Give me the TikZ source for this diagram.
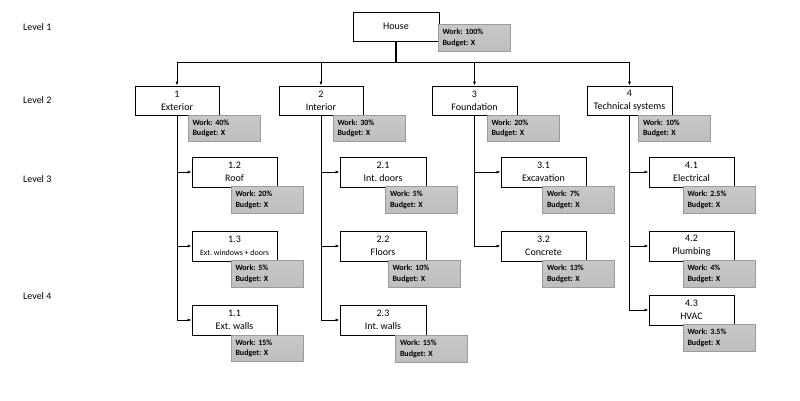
\documentclass[tikz,border=0pt]{standalone}
\usepackage{fontspec}
\setmainfont{Carlito}
\usetikzlibrary{arrows.meta}
\definecolor{tagfill}{RGB}{190,190,190}
\definecolor{tagline}{RGB}{155,155,155}
\frenchspacing
\begin{document}
\begin{tikzpicture}[x=1pt,y=-1pt,
  wbs/.style={draw=black,line width=0.8pt,fill=white,inner sep=0pt,
    minimum height=29pt,align=center,font=\frenchspacing\fontsize{10}{13}\selectfont},
  tagbox/.style={draw=tagline,line width=0.6pt,top color=tagfill!85,bottom color=tagfill,
    inner xsep=4.5pt,inner ysep=0pt,minimum height=26.5pt,text width=63pt,align=left,
    font=\frenchspacing\bfseries\fontsize{8}{10.3}\selectfont},
  lvl/.style={anchor=west,inner sep=0pt,font=\fontsize{10}{12}\selectfont},
  conn/.style={line width=0.75pt,-{Latex[length=4pt,width=3pt]}},
  bar/.style={line width=0.75pt}]
\useasboundingbox (0,0) rectangle (800,401);

% level labels
\node[lvl] (l1) at (23,27) {Level 1};
\node[lvl] (l2) at (23,100) {Level 2};
\node[lvl] (l3) at (23,179) {Level 3};
\node[lvl] (l4) at (23,296) {Level 4};

% level 1
\node[wbs,minimum width=86pt] (house) at (396,26.5) {House};
% level 2
\node[wbs,minimum width=84pt] (ext) at (177,100.5) {1\\Exterior};
\node[wbs,minimum width=84pt] (int) at (321,100.5) {2\\Interior};
\node[wbs,minimum width=85pt] (fou) at (474.5,100.5) {3\\Foundation};
\node[wbs,minimum width=85pt] (tec) at (629.5,100.5) {4\\Technical systems};
% level 3/4
\node[wbs,minimum width=85pt,minimum height=30pt] (roof) at (234.5,172) {1.2\\Roof};
\node[wbs,minimum width=85pt,minimum height=30pt] (win) at (234.5,246) {1.3\\{\fontsize{8}{10}\selectfont Ext. windows + doors}};
\node[wbs,minimum width=85pt,minimum height=30pt] (wal) at (234.5,320) {1.1\\Ext. walls};
\node[wbs,minimum width=86pt,minimum height=30pt] (idr) at (383,172) {2.1\\Int. doors};
\node[wbs,minimum width=86pt,minimum height=30pt] (flo) at (383,246) {2.2\\Floors};
\node[wbs,minimum width=86pt,minimum height=30pt] (iwl) at (383,320) {2.3\\Int. walls};
\node[wbs,minimum width=85pt,minimum height=30pt] (exc) at (543.5,172) {3.1\\Excavation};
\node[wbs,minimum width=85pt,minimum height=30pt] (con) at (543.5,246) {3.2\\Concrete};
\node[wbs,minimum width=85pt,minimum height=30pt] (ele) at (691.5,172) {4.1\\Electrical};
\node[wbs,minimum width=85pt,minimum height=30pt] (plu) at (691.5,246) {4.2\\Plumbing};
\node[wbs,minimum width=85pt,minimum height=30pt] (hva) at (691.5,310) {4.3\\HVAC};

% tags
\node[tagbox] (thouse) at (474,38) {Work: 100\%\\Budget: X};
\node[tagbox] (text) at (224,128.5) {Work: 40\%\\Budget: X};
\node[tagbox] (tint) at (369,128.5) {Work: 30\%\\Budget: X};
\node[tagbox] (tfou) at (523,128.5) {Work: 20\%\\Budget: X};
\node[tagbox] (ttec) at (674.5,128.5) {Work: 10\%\\Budget: X};
\node[tagbox] (troof) at (267,200) {Work: 20\%\\Budget: X};
\node[tagbox] (twin) at (267,274) {Work: 5\%\\Budget: X};
\node[tagbox] (twal) at (267,348.5) {Work: 15\%\\Budget: X};
\node[tagbox] (tidr) at (421.5,200) {Work: 5\%\\Budget: X};
\node[tagbox] (tflo) at (424,274) {Work: 10\%\\Budget: X};
\node[tagbox] (tiwl) at (431.5,349) {Work: 15\%\\Budget: X};
\node[tagbox] (texc) at (578.5,200) {Work: 7\%\\Budget: X};
\node[tagbox] (tcon) at (578.5,274) {Work: 13\%\\Budget: X};
\node[tagbox] (tele) at (719,200) {Work: 2.5\%\\Budget: X};
\node[tagbox] (tplu) at (719,274) {Work: 4\%\\Budget: X};
\node[tagbox] (thva) at (719,338) {Work: 3.5\%\\Budget: X};

% connectors
\coordinate (bus) at (396,62);
\draw[line width=2pt] (house.south) -- (bus);
\draw[bar] (ext.north |- bus) -- (tec.north |- bus);
\draw[conn] (ext.north |- bus) -- (ext.north);
\draw[conn] (int.north |- bus) -- (int.north);
\draw[conn] (fou.north |- bus) -- (fou.north);
\draw[conn] (tec.north |- bus) -- (tec.north);

\draw[conn] (ext.south) |- (roof.west);
\draw[conn] (ext.south) |- (win.west);
\draw[conn] (ext.south) |- (wal.west);
\draw[conn] (int.south) |- (idr.west);
\draw[conn] (int.south) |- (flo.west);
\draw[conn] (int.south) |- (iwl.west);
\draw[conn] (fou.south) |- (exc.west);
\draw[conn] (fou.south) |- (con.west);
\draw[conn] (tec.south) |- (ele.west);
\draw[conn] (tec.south) |- (plu.west);
\draw[conn] (tec.south) |- (hva.west);
\end{tikzpicture}
\end{document}
